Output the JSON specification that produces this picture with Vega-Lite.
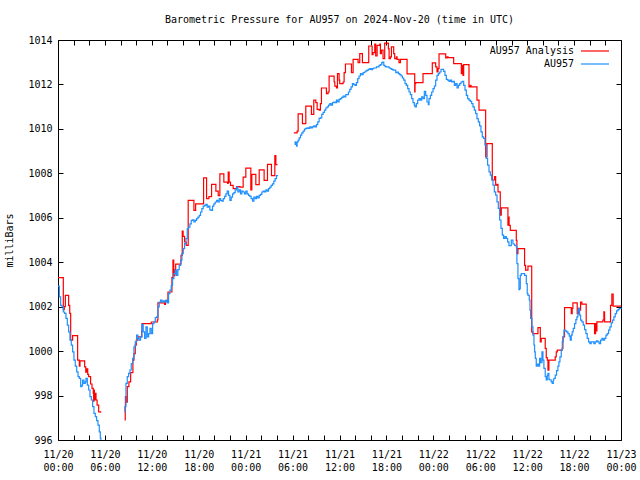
{
"$schema": "https://vega.github.io/schema/vega-lite/v6.json",
"width": 563, "height": 400,
"autosize": "none",
"padding": {"left": 58, "top": 40, "right": 19, "bottom": 40},
"background": "white",
"title": {"text": "Barometric Pressure for AU957 on 2024-Nov-20 (time in UTC)", "font": "DejaVu Sans Mono", "fontSize": 10, "fontWeight": "normal", "color": "black", "offset": 10, "anchor": "middle"},
"config": {
 "view": {"stroke": "black", "strokeWidth": 1},
 "axis": {"domain": false, "grid": false, "tickColor": "black", "tickSize": -5, "tickWidth": 1, "labelFont": "DejaVu Sans Mono", "labelFontSize": 10, "labelColor": "black", "titleFont": "DejaVu Sans Mono", "titleFontSize": 10, "titleFontWeight": "normal", "titleColor": "black", "labelOverlap": false, "labelFlush": false, "labelBound": false},
 "legend": {"orient": "none", "legendX": 529, "legendY": 3, "symbolType": "M-2,0H2", "symbolSize": 196, "symbolStrokeWidth": 1.2, "labelAlign": "right", "labelOffset": -29, "labelFont": "DejaVu Sans Mono", "labelFontSize": 10, "labelColor": "black", "rowPadding": 0, "padding": 0}
},
"datasets": {"pressure": [
{"series":"AU957 Analysis","seg":1,"hour":0,"mb":1003.31},
{"series":"AU957 Analysis","seg":1,"hour":0.68,"mb":1001.87},
{"series":"AU957 Analysis","seg":1,"hour":0.8,"mb":1002.0},
{"series":"AU957 Analysis","seg":1,"hour":0.94,"mb":1002.51},
{"series":"AU957 Analysis","seg":1,"hour":1.36,"mb":1002.06},
{"series":"AU957 Analysis","seg":1,"hour":1.5,"mb":1001.7},
{"series":"AU957 Analysis","seg":1,"hour":1.62,"mb":1000.49},
{"series":"AU957 Analysis","seg":1,"hour":1.87,"mb":1000.7},
{"series":"AU957 Analysis","seg":1,"hour":2.51,"mb":999.59},
{"series":"AU957 Analysis","seg":1,"hour":2.73,"mb":999.32},
{"series":"AU957 Analysis","seg":1,"hour":2.81,"mb":999.56},
{"series":"AU957 Analysis","seg":1,"hour":3.41,"mb":999.29},
{"series":"AU957 Analysis","seg":1,"hour":3.55,"mb":999.05},
{"series":"AU957 Analysis","seg":1,"hour":3.66,"mb":999.2},
{"series":"AU957 Analysis","seg":1,"hour":3.8,"mb":998.95},
{"series":"AU957 Analysis","seg":1,"hour":3.92,"mb":998.85},
{"series":"AU957 Analysis","seg":1,"hour":4.17,"mb":998.52},
{"series":"AU957 Analysis","seg":1,"hour":4.35,"mb":998.32},
{"series":"AU957 Analysis","seg":1,"hour":4.51,"mb":998.1},
{"series":"AU957 Analysis","seg":1,"hour":4.56,"mb":997.75},
{"series":"AU957 Analysis","seg":1,"hour":4.6,"mb":998.25},
{"series":"AU957 Analysis","seg":1,"hour":4.66,"mb":997.8},
{"series":"AU957 Analysis","seg":1,"hour":4.72,"mb":998.1},
{"series":"AU957 Analysis","seg":1,"hour":4.86,"mb":997.8},
{"series":"AU957 Analysis","seg":1,"hour":5.0,"mb":997.57},
{"series":"AU957 Analysis","seg":1,"hour":5.2,"mb":997.27},
{"series":"AU957 Analysis","seg":1,"hour":5.45,"mb":997.23},
{"series":"AU957 Analysis","seg":2,"hour":8.52,"mb":996.9},
{"series":"AU957 Analysis","seg":2,"hour":8.6,"mb":997.5},
{"series":"AU957 Analysis","seg":2,"hour":8.62,"mb":997.95},
{"series":"AU957 Analysis","seg":2,"hour":8.7,"mb":997.7},
{"series":"AU957 Analysis","seg":2,"hour":8.86,"mb":998.4},
{"series":"AU957 Analysis","seg":2,"hour":9.07,"mb":998.62},
{"series":"AU957 Analysis","seg":2,"hour":9.29,"mb":999.03},
{"series":"AU957 Analysis","seg":2,"hour":9.58,"mb":999.59},
{"series":"AU957 Analysis","seg":2,"hour":9.71,"mb":999.89},
{"series":"AU957 Analysis","seg":2,"hour":9.88,"mb":1000.27},
{"series":"AU957 Analysis","seg":2,"hour":10.01,"mb":1000.49},
{"series":"AU957 Analysis","seg":2,"hour":10.22,"mb":1000.64},
{"series":"AU957 Analysis","seg":2,"hour":10.7,"mb":1000.9},
{"series":"AU957 Analysis","seg":2,"hour":10.75,"mb":1001.24},
{"series":"AU957 Analysis","seg":2,"hour":11.93,"mb":1001.31},
{"series":"AU957 Analysis","seg":2,"hour":12.7,"mb":1001.4},
{"series":"AU957 Analysis","seg":2,"hour":12.78,"mb":1002.17},
{"series":"AU957 Analysis","seg":2,"hour":13.63,"mb":1002.1},
{"series":"AU957 Analysis","seg":2,"hour":13.75,"mb":1002.25},
{"series":"AU957 Analysis","seg":2,"hour":14.06,"mb":1002.66},
{"series":"AU957 Analysis","seg":2,"hour":14.57,"mb":1003.31},
{"series":"AU957 Analysis","seg":2,"hour":14.7,"mb":1004.09},
{"series":"AU957 Analysis","seg":2,"hour":14.8,"mb":1003.4},
{"series":"AU957 Analysis","seg":2,"hour":14.96,"mb":1003.67},
{"series":"AU957 Analysis","seg":2,"hour":15.05,"mb":1003.91},
{"series":"AU957 Analysis","seg":2,"hour":15.73,"mb":1004.31},
{"series":"AU957 Analysis","seg":2,"hour":15.89,"mb":1005.4},
{"series":"AU957 Analysis","seg":2,"hour":16.0,"mb":1005.16},
{"series":"AU957 Analysis","seg":2,"hour":16.19,"mb":1004.91},
{"series":"AU957 Analysis","seg":2,"hour":16.4,"mb":1004.76},
{"series":"AU957 Analysis","seg":2,"hour":16.65,"mb":1006.78},
{"series":"AU957 Analysis","seg":2,"hour":17.38,"mb":1006.33},
{"series":"AU957 Analysis","seg":2,"hour":17.6,"mb":1006.63},
{"series":"AU957 Analysis","seg":2,"hour":18.62,"mb":1007.8},
{"series":"AU957 Analysis","seg":2,"hour":19.0,"mb":1006.86},
{"series":"AU957 Analysis","seg":2,"hour":19.3,"mb":1006.95},
{"series":"AU957 Analysis","seg":2,"hour":19.64,"mb":1007.5},
{"series":"AU957 Analysis","seg":2,"hour":20.19,"mb":1007.2},
{"series":"AU957 Analysis","seg":2,"hour":20.49,"mb":1007.0},
{"series":"AU957 Analysis","seg":2,"hour":20.7,"mb":1007.98},
{"series":"AU957 Analysis","seg":2,"hour":21.21,"mb":1007.6},
{"series":"AU957 Analysis","seg":2,"hour":21.7,"mb":1007.55},
{"series":"AU957 Analysis","seg":2,"hour":21.77,"mb":1008.05},
{"series":"AU957 Analysis","seg":2,"hour":21.89,"mb":1007.6},
{"series":"AU957 Analysis","seg":2,"hour":22.06,"mb":1007.46},
{"series":"AU957 Analysis","seg":2,"hour":22.4,"mb":1007.31},
{"series":"AU957 Analysis","seg":2,"hour":22.83,"mb":1007.4},
{"series":"AU957 Analysis","seg":2,"hour":23.26,"mb":1007.38},
{"series":"AU957 Analysis","seg":2,"hour":23.68,"mb":1007.83},
{"series":"AU957 Analysis","seg":2,"hour":24.02,"mb":1008.23},
{"series":"AU957 Analysis","seg":2,"hour":24.66,"mb":1007.26},
{"series":"AU957 Analysis","seg":2,"hour":24.79,"mb":1007.95},
{"series":"AU957 Analysis","seg":2,"hour":25.3,"mb":1007.49},
{"series":"AU957 Analysis","seg":2,"hour":25.73,"mb":1008.16},
{"series":"AU957 Analysis","seg":2,"hour":26.36,"mb":1007.68},
{"series":"AU957 Analysis","seg":2,"hour":26.79,"mb":1008.4},
{"series":"AU957 Analysis","seg":2,"hour":27.3,"mb":1007.9},
{"series":"AU957 Analysis","seg":2,"hour":27.73,"mb":1008.8},
{"series":"AU957 Analysis","seg":2,"hour":27.86,"mb":1008.39},
{"series":"AU957 Analysis","seg":2,"hour":28.07,"mb":1008.39},
{"series":"AU957 Analysis","seg":3,"hour":30.16,"mb":1009.82},
{"series":"AU957 Analysis","seg":3,"hour":30.58,"mb":1009.9},
{"series":"AU957 Analysis","seg":3,"hour":30.71,"mb":1010.68},
{"series":"AU957 Analysis","seg":3,"hour":31.26,"mb":1010.24},
{"series":"AU957 Analysis","seg":3,"hour":31.69,"mb":1011.02},
{"series":"AU957 Analysis","seg":3,"hour":32.41,"mb":1010.65},
{"series":"AU957 Analysis","seg":3,"hour":32.71,"mb":1011.29},
{"series":"AU957 Analysis","seg":3,"hour":32.97,"mb":1011.18},
{"series":"AU957 Analysis","seg":3,"hour":33.14,"mb":1010.88},
{"series":"AU957 Analysis","seg":3,"hour":33.39,"mb":1010.84},
{"series":"AU957 Analysis","seg":3,"hour":33.56,"mb":1011.14},
{"series":"AU957 Analysis","seg":3,"hour":33.69,"mb":1011.84},
{"series":"AU957 Analysis","seg":3,"hour":34.33,"mb":1011.59},
{"series":"AU957 Analysis","seg":3,"hour":34.54,"mb":1011.66},
{"series":"AU957 Analysis","seg":3,"hour":34.67,"mb":1012.37},
{"series":"AU957 Analysis","seg":3,"hour":35.31,"mb":1012.11},
{"series":"AU957 Analysis","seg":3,"hour":35.4,"mb":1011.92},
{"series":"AU957 Analysis","seg":3,"hour":35.61,"mb":1011.84},
{"series":"AU957 Analysis","seg":3,"hour":35.74,"mb":1012.49},
{"series":"AU957 Analysis","seg":3,"hour":35.95,"mb":1012.19},
{"series":"AU957 Analysis","seg":3,"hour":36.03,"mb":1012.04},
{"series":"AU957 Analysis","seg":3,"hour":36.46,"mb":1012.11},
{"series":"AU957 Analysis","seg":3,"hour":36.59,"mb":1012.53},
{"series":"AU957 Analysis","seg":3,"hour":36.76,"mb":1012.92},
{"series":"AU957 Analysis","seg":3,"hour":37.53,"mb":1012.53},
{"series":"AU957 Analysis","seg":3,"hour":37.74,"mb":1013.13},
{"series":"AU957 Analysis","seg":3,"hour":38.38,"mb":1012.98},
{"series":"AU957 Analysis","seg":3,"hour":38.59,"mb":1013.39},
{"series":"AU957 Analysis","seg":3,"hour":38.93,"mb":1012.98},
{"series":"AU957 Analysis","seg":3,"hour":39.74,"mb":1013.73},
{"series":"AU957 Analysis","seg":3,"hour":40.17,"mb":1013.34},
{"series":"AU957 Analysis","seg":3,"hour":40.29,"mb":1013.43},
{"series":"AU957 Analysis","seg":3,"hour":40.51,"mb":1013.82},
{"series":"AU957 Analysis","seg":3,"hour":40.63,"mb":1013.28},
{"series":"AU957 Analysis","seg":3,"hour":40.81,"mb":1013.76},
{"series":"AU957 Analysis","seg":3,"hour":41.15,"mb":1013.82},
{"series":"AU957 Analysis","seg":3,"hour":41.23,"mb":1013.39},
{"series":"AU957 Analysis","seg":3,"hour":41.36,"mb":1013.54},
{"series":"AU957 Analysis","seg":3,"hour":41.57,"mb":1013.16},
{"series":"AU957 Analysis","seg":3,"hour":41.78,"mb":1013.86},
{"series":"AU957 Analysis","seg":3,"hour":42.25,"mb":1013.61},
{"series":"AU957 Analysis","seg":3,"hour":42.34,"mb":1013.16},
{"series":"AU957 Analysis","seg":3,"hour":42.51,"mb":1013.24},
{"series":"AU957 Analysis","seg":3,"hour":42.64,"mb":1013.69},
{"series":"AU957 Analysis","seg":3,"hour":42.93,"mb":1013.39},
{"series":"AU957 Analysis","seg":3,"hour":43.06,"mb":1013.16},
{"series":"AU957 Analysis","seg":3,"hour":43.28,"mb":1013.24},
{"series":"AU957 Analysis","seg":3,"hour":43.36,"mb":1013.13},
{"series":"AU957 Analysis","seg":3,"hour":43.61,"mb":1012.98},
{"series":"AU957 Analysis","seg":3,"hour":43.79,"mb":1013.13},
{"series":"AU957 Analysis","seg":3,"hour":44.64,"mb":1012.48},
{"series":"AU957 Analysis","seg":3,"hour":45.62,"mb":1011.66},
{"series":"AU957 Analysis","seg":3,"hour":45.66,"mb":1012.04},
{"series":"AU957 Analysis","seg":3,"hour":45.74,"mb":1012.08},
{"series":"AU957 Analysis","seg":3,"hour":46.68,"mb":1012.49},
{"series":"AU957 Analysis","seg":3,"hour":47.87,"mb":1012.97},
{"series":"AU957 Analysis","seg":3,"hour":48.3,"mb":1012.79},
{"series":"AU957 Analysis","seg":3,"hour":48.47,"mb":1012.56},
{"series":"AU957 Analysis","seg":3,"hour":48.6,"mb":1012.71},
{"series":"AU957 Analysis","seg":3,"hour":48.73,"mb":1013.38},
{"series":"AU957 Analysis","seg":3,"hour":49.58,"mb":1013.19},
{"series":"AU957 Analysis","seg":3,"hour":49.75,"mb":1013.24},
{"series":"AU957 Analysis","seg":3,"hour":49.88,"mb":1013.21},
{"series":"AU957 Analysis","seg":3,"hour":50.6,"mb":1012.94},
{"series":"AU957 Analysis","seg":3,"hour":51.58,"mb":1012.49},
{"series":"AU957 Analysis","seg":3,"hour":51.71,"mb":1012.86},
{"series":"AU957 Analysis","seg":3,"hour":51.79,"mb":1012.41},
{"series":"AU957 Analysis","seg":3,"hour":51.88,"mb":1012.89},
{"series":"AU957 Analysis","seg":3,"hour":52.56,"mb":1011.89},
{"series":"AU957 Analysis","seg":3,"hour":52.73,"mb":1011.96},
{"series":"AU957 Analysis","seg":3,"hour":52.82,"mb":1011.89},
{"series":"AU957 Analysis","seg":3,"hour":53.58,"mb":1011.29},
{"series":"AU957 Analysis","seg":3,"hour":53.84,"mb":1010.84},
{"series":"AU957 Analysis","seg":3,"hour":54.69,"mb":1008.74},
{"series":"AU957 Analysis","seg":3,"hour":54.86,"mb":1009.34},
{"series":"AU957 Analysis","seg":3,"hour":55.54,"mb":1007.7},
{"series":"AU957 Analysis","seg":3,"hour":55.84,"mb":1007.85},
{"series":"AU957 Analysis","seg":3,"hour":55.97,"mb":1007.47},
{"series":"AU957 Analysis","seg":3,"hour":56.14,"mb":1007.5},
{"series":"AU957 Analysis","seg":3,"hour":56.27,"mb":1007.17},
{"series":"AU957 Analysis","seg":3,"hour":56.56,"mb":1006.12},
{"series":"AU957 Analysis","seg":3,"hour":56.69,"mb":1006.45},
{"series":"AU957 Analysis","seg":3,"hour":57.54,"mb":1005.67},
{"series":"AU957 Analysis","seg":3,"hour":57.63,"mb":1006.03},
{"series":"AU957 Analysis","seg":3,"hour":57.69,"mb":1005.66},
{"series":"AU957 Analysis","seg":3,"hour":57.84,"mb":1005.43},
{"series":"AU957 Analysis","seg":3,"hour":58.61,"mb":1004.98},
{"series":"AU957 Analysis","seg":3,"hour":58.69,"mb":1004.39},
{"series":"AU957 Analysis","seg":3,"hour":58.82,"mb":1004.61},
{"series":"AU957 Analysis","seg":3,"hour":59.67,"mb":1003.86},
{"series":"AU957 Analysis","seg":3,"hour":59.8,"mb":1003.64},
{"series":"AU957 Analysis","seg":3,"hour":60.1,"mb":1003.82},
{"series":"AU957 Analysis","seg":3,"hour":60.58,"mb":1000.87},
{"series":"AU957 Analysis","seg":3,"hour":60.74,"mb":1000.79},
{"series":"AU957 Analysis","seg":3,"hour":61.38,"mb":1001.06},
{"series":"AU957 Analysis","seg":3,"hour":61.68,"mb":1000.42},
{"series":"AU957 Analysis","seg":3,"hour":61.8,"mb":1000.57},
{"series":"AU957 Analysis","seg":3,"hour":62.31,"mb":1000.12},
{"series":"AU957 Analysis","seg":3,"hour":62.44,"mb":999.71},
{"series":"AU957 Analysis","seg":3,"hour":62.57,"mb":999.59},
{"series":"AU957 Analysis","seg":3,"hour":62.66,"mb":999.14},
{"series":"AU957 Analysis","seg":3,"hour":62.78,"mb":999.59},
{"series":"AU957 Analysis","seg":3,"hour":63.59,"mb":999.74},
{"series":"AU957 Analysis","seg":3,"hour":63.72,"mb":999.97},
{"series":"AU957 Analysis","seg":3,"hour":63.85,"mb":1000.04},
{"series":"AU957 Analysis","seg":3,"hour":64.49,"mb":1000.12},
{"series":"AU957 Analysis","seg":3,"hour":64.57,"mb":1000.64},
{"series":"AU957 Analysis","seg":3,"hour":64.78,"mb":1001.96},
{"series":"AU957 Analysis","seg":3,"hour":65.64,"mb":1001.69},
{"series":"AU957 Analysis","seg":3,"hour":65.76,"mb":1001.92},
{"series":"AU957 Analysis","seg":3,"hour":65.85,"mb":1002.17},
{"series":"AU957 Analysis","seg":3,"hour":66.4,"mb":1001.69},
{"series":"AU957 Analysis","seg":3,"hour":66.57,"mb":1001.92},
{"series":"AU957 Analysis","seg":3,"hour":66.7,"mb":1001.84},
{"series":"AU957 Analysis","seg":3,"hour":66.83,"mb":1002.21},
{"series":"AU957 Analysis","seg":3,"hour":67.0,"mb":1002.11},
{"series":"AU957 Analysis","seg":3,"hour":67.55,"mb":1001.24},
{"series":"AU957 Analysis","seg":3,"hour":68.62,"mb":1000.79},
{"series":"AU957 Analysis","seg":3,"hour":68.75,"mb":1001.24},
{"series":"AU957 Analysis","seg":3,"hour":68.83,"mb":1000.91},
{"series":"AU957 Analysis","seg":3,"hour":68.92,"mb":1001.32},
{"series":"AU957 Analysis","seg":3,"hour":69.68,"mb":1001.39},
{"series":"AU957 Analysis","seg":3,"hour":69.81,"mb":1001.77},
{"series":"AU957 Analysis","seg":3,"hour":69.9,"mb":1001.32},
{"series":"AU957 Analysis","seg":3,"hour":70.66,"mb":1002.06},
{"series":"AU957 Analysis","seg":3,"hour":70.83,"mb":1002.56},
{"series":"AU957 Analysis","seg":3,"hour":71.0,"mb":1002.02},
{"series":"AU957 Analysis","seg":3,"hour":72.0,"mb":1002.02},
{"series":"AU957","seg":1,"hour":0,"mb":1002.92},
{"series":"AU957","seg":1,"hour":0.09,"mb":1002.92},
{"series":"AU957","seg":1,"hour":0.17,"mb":1002.44},
{"series":"AU957","seg":1,"hour":0.34,"mb":1002.06},
{"series":"AU957","seg":1,"hour":0.51,"mb":1001.99},
{"series":"AU957","seg":1,"hour":0.68,"mb":1001.76},
{"series":"AU957","seg":1,"hour":0.85,"mb":1001.7},
{"series":"AU957","seg":1,"hour":1.02,"mb":1001.47},
{"series":"AU957","seg":1,"hour":1.19,"mb":1001.17},
{"series":"AU957","seg":1,"hour":1.36,"mb":1000.87},
{"series":"AU957","seg":1,"hour":1.53,"mb":1000.49},
{"series":"AU957","seg":1,"hour":1.7,"mb":1000.27},
{"series":"AU957","seg":1,"hour":1.87,"mb":999.97},
{"series":"AU957","seg":1,"hour":2.04,"mb":999.59},
{"series":"AU957","seg":1,"hour":2.21,"mb":999.32},
{"series":"AU957","seg":1,"hour":2.39,"mb":999.07},
{"series":"AU957","seg":1,"hour":2.56,"mb":998.85},
{"series":"AU957","seg":1,"hour":2.73,"mb":998.77},
{"series":"AU957","seg":1,"hour":2.9,"mb":998.4},
{"series":"AU957","seg":1,"hour":3.07,"mb":998.47},
{"series":"AU957","seg":1,"hour":3.15,"mb":998.7},
{"series":"AU957","seg":1,"hour":3.32,"mb":998.55},
{"series":"AU957","seg":1,"hour":3.49,"mb":998.62},
{"series":"AU957","seg":1,"hour":3.58,"mb":998.77},
{"series":"AU957","seg":1,"hour":3.75,"mb":998.47},
{"series":"AU957","seg":1,"hour":3.92,"mb":998.25},
{"series":"AU957","seg":1,"hour":4.09,"mb":997.95},
{"series":"AU957","seg":1,"hour":4.26,"mb":997.8},
{"series":"AU957","seg":1,"hour":4.43,"mb":997.5},
{"series":"AU957","seg":1,"hour":4.6,"mb":997.2},
{"series":"AU957","seg":1,"hour":4.77,"mb":997.05},
{"series":"AU957","seg":1,"hour":4.94,"mb":996.87},
{"series":"AU957","seg":1,"hour":5.11,"mb":996.67},
{"series":"AU957","seg":1,"hour":5.28,"mb":996.37},
{"series":"AU957","seg":1,"hour":5.41,"mb":996.08},
{"series":"AU957","seg":1,"hour":5.48,"mb":996.0},
{"series":"AU957","seg":2,"hour":8.48,"mb":997.27},
{"series":"AU957","seg":2,"hour":8.56,"mb":997.5},
{"series":"AU957","seg":2,"hour":8.69,"mb":998.55},
{"series":"AU957","seg":2,"hour":8.86,"mb":998.85},
{"series":"AU957","seg":2,"hour":9.03,"mb":999.0},
{"series":"AU957","seg":2,"hour":9.2,"mb":999.15},
{"series":"AU957","seg":2,"hour":9.37,"mb":999.44},
{"series":"AU957","seg":2,"hour":9.54,"mb":999.67},
{"series":"AU957","seg":2,"hour":9.71,"mb":1000.19},
{"series":"AU957","seg":2,"hour":9.88,"mb":1000.42},
{"series":"AU957","seg":2,"hour":10.05,"mb":1000.72},
{"series":"AU957","seg":2,"hour":10.22,"mb":1000.57},
{"series":"AU957","seg":2,"hour":10.39,"mb":1000.49},
{"series":"AU957","seg":2,"hour":10.56,"mb":1000.64},
{"series":"AU957","seg":2,"hour":10.73,"mb":1001.2},
{"series":"AU957","seg":2,"hour":10.9,"mb":1000.87},
{"series":"AU957","seg":2,"hour":11.08,"mb":1000.57},
{"series":"AU957","seg":2,"hour":11.25,"mb":1001.09},
{"series":"AU957","seg":2,"hour":11.42,"mb":1000.64},
{"series":"AU957","seg":2,"hour":11.59,"mb":1000.79},
{"series":"AU957","seg":2,"hour":11.76,"mb":1001.02},
{"series":"AU957","seg":2,"hour":11.93,"mb":1000.79},
{"series":"AU957","seg":2,"hour":12.1,"mb":1001.24},
{"series":"AU957","seg":2,"hour":12.27,"mb":1001.32},
{"series":"AU957","seg":2,"hour":12.44,"mb":1001.51},
{"series":"AU957","seg":2,"hour":12.61,"mb":1001.54},
{"series":"AU957","seg":2,"hour":12.78,"mb":1001.99},
{"series":"AU957","seg":2,"hour":12.95,"mb":1002.21},
{"series":"AU957","seg":2,"hour":13.12,"mb":1002.29},
{"series":"AU957","seg":2,"hour":13.29,"mb":1002.21},
{"series":"AU957","seg":2,"hour":13.46,"mb":1002.26},
{"series":"AU957","seg":2,"hour":13.63,"mb":1002.21},
{"series":"AU957","seg":2,"hour":13.8,"mb":1002.29},
{"series":"AU957","seg":2,"hour":13.97,"mb":1002.17},
{"series":"AU957","seg":2,"hour":14.14,"mb":1002.59},
{"series":"AU957","seg":2,"hour":14.31,"mb":1002.74},
{"series":"AU957","seg":2,"hour":14.48,"mb":1002.96},
{"series":"AU957","seg":2,"hour":14.65,"mb":1003.26},
{"series":"AU957","seg":2,"hour":14.82,"mb":1003.49},
{"series":"AU957","seg":2,"hour":14.99,"mb":1003.64},
{"series":"AU957","seg":2,"hour":15.16,"mb":1003.41},
{"series":"AU957","seg":2,"hour":15.33,"mb":1003.67},
{"series":"AU957","seg":2,"hour":15.5,"mb":1003.86},
{"series":"AU957","seg":2,"hour":15.68,"mb":1004.09},
{"series":"AU957","seg":2,"hour":15.85,"mb":1004.39},
{"series":"AU957","seg":2,"hour":16.02,"mb":1004.61},
{"series":"AU957","seg":2,"hour":16.19,"mb":1004.84},
{"series":"AU957","seg":2,"hour":16.36,"mb":1005.06},
{"series":"AU957","seg":2,"hour":16.53,"mb":1005.51},
{"series":"AU957","seg":2,"hour":16.7,"mb":1005.58},
{"series":"AU957","seg":2,"hour":16.87,"mb":1005.73},
{"series":"AU957","seg":2,"hour":17.04,"mb":1005.88},
{"series":"AU957","seg":2,"hour":17.21,"mb":1005.91},
{"series":"AU957","seg":2,"hour":17.38,"mb":1005.81},
{"series":"AU957","seg":2,"hour":17.55,"mb":1005.88},
{"series":"AU957","seg":2,"hour":17.72,"mb":1005.96},
{"series":"AU957","seg":2,"hour":17.89,"mb":1006.03},
{"series":"AU957","seg":2,"hour":18.06,"mb":1006.11},
{"series":"AU957","seg":2,"hour":18.23,"mb":1006.26},
{"series":"AU957","seg":2,"hour":18.4,"mb":1006.41},
{"series":"AU957","seg":2,"hour":18.57,"mb":1006.52},
{"series":"AU957","seg":2,"hour":18.74,"mb":1006.56},
{"series":"AU957","seg":2,"hour":18.91,"mb":1006.6},
{"series":"AU957","seg":2,"hour":19.08,"mb":1006.48},
{"series":"AU957","seg":2,"hour":19.25,"mb":1006.52},
{"series":"AU957","seg":2,"hour":19.42,"mb":1006.36},
{"series":"AU957","seg":2,"hour":19.59,"mb":1006.33},
{"series":"AU957","seg":2,"hour":19.76,"mb":1006.52},
{"series":"AU957","seg":2,"hour":19.93,"mb":1006.63},
{"series":"AU957","seg":2,"hour":20.1,"mb":1006.71},
{"series":"AU957","seg":2,"hour":20.28,"mb":1006.78},
{"series":"AU957","seg":2,"hour":20.45,"mb":1006.71},
{"series":"AU957","seg":2,"hour":20.62,"mb":1006.86},
{"series":"AU957","seg":2,"hour":20.79,"mb":1006.78},
{"series":"AU957","seg":2,"hour":20.96,"mb":1006.75},
{"series":"AU957","seg":2,"hour":21.13,"mb":1006.86},
{"series":"AU957","seg":2,"hour":21.3,"mb":1006.96},
{"series":"AU957","seg":2,"hour":21.47,"mb":1007.08},
{"series":"AU957","seg":2,"hour":21.64,"mb":1007.2},
{"series":"AU957","seg":2,"hour":21.81,"mb":1007.01},
{"series":"AU957","seg":2,"hour":21.98,"mb":1006.78},
{"series":"AU957","seg":2,"hour":22.15,"mb":1006.93},
{"series":"AU957","seg":2,"hour":22.32,"mb":1007.08},
{"series":"AU957","seg":2,"hour":22.49,"mb":1007.13},
{"series":"AU957","seg":2,"hour":22.66,"mb":1007.26},
{"series":"AU957","seg":2,"hour":22.83,"mb":1007.38},
{"series":"AU957","seg":2,"hour":23.0,"mb":1007.16},
{"series":"AU957","seg":2,"hour":23.17,"mb":1007.26},
{"series":"AU957","seg":2,"hour":23.34,"mb":1007.08},
{"series":"AU957","seg":2,"hour":23.51,"mb":1007.2},
{"series":"AU957","seg":2,"hour":23.68,"mb":1007.16},
{"series":"AU957","seg":2,"hour":23.85,"mb":1007.08},
{"series":"AU957","seg":2,"hour":24.02,"mb":1007.2},
{"series":"AU957","seg":2,"hour":24.19,"mb":1007.08},
{"series":"AU957","seg":2,"hour":24.36,"mb":1007.01},
{"series":"AU957","seg":2,"hour":24.53,"mb":1006.96},
{"series":"AU957","seg":2,"hour":24.7,"mb":1006.86},
{"series":"AU957","seg":2,"hour":24.88,"mb":1006.75},
{"series":"AU957","seg":2,"hour":25.05,"mb":1006.93},
{"series":"AU957","seg":2,"hour":25.22,"mb":1006.86},
{"series":"AU957","seg":2,"hour":25.39,"mb":1006.96},
{"series":"AU957","seg":2,"hour":25.56,"mb":1006.9},
{"series":"AU957","seg":2,"hour":25.73,"mb":1007.01},
{"series":"AU957","seg":2,"hour":25.9,"mb":1007.05},
{"series":"AU957","seg":2,"hour":26.07,"mb":1007.16},
{"series":"AU957","seg":2,"hour":26.24,"mb":1007.2},
{"series":"AU957","seg":2,"hour":26.41,"mb":1007.16},
{"series":"AU957","seg":2,"hour":26.58,"mb":1007.26},
{"series":"AU957","seg":2,"hour":26.75,"mb":1007.2},
{"series":"AU957","seg":2,"hour":26.92,"mb":1007.31},
{"series":"AU957","seg":2,"hour":27.09,"mb":1007.38},
{"series":"AU957","seg":2,"hour":27.26,"mb":1007.46},
{"series":"AU957","seg":2,"hour":27.43,"mb":1007.53},
{"series":"AU957","seg":2,"hour":27.6,"mb":1007.65},
{"series":"AU957","seg":2,"hour":27.77,"mb":1007.76},
{"series":"AU957","seg":2,"hour":27.94,"mb":1007.9},
{"series":"AU957","seg":2,"hour":28.07,"mb":1007.93},
{"series":"AU957","seg":3,"hour":30.24,"mb":1009.42},
{"series":"AU957","seg":3,"hour":30.33,"mb":1009.3},
{"series":"AU957","seg":3,"hour":30.41,"mb":1009.39},
{"series":"AU957","seg":3,"hour":30.5,"mb":1009.22},
{"series":"AU957","seg":3,"hour":30.58,"mb":1009.42},
{"series":"AU957","seg":3,"hour":30.71,"mb":1009.49},
{"series":"AU957","seg":3,"hour":30.84,"mb":1009.6},
{"series":"AU957","seg":3,"hour":31.01,"mb":1009.72},
{"series":"AU957","seg":3,"hour":31.18,"mb":1009.82},
{"series":"AU957","seg":3,"hour":31.35,"mb":1009.9},
{"series":"AU957","seg":3,"hour":31.52,"mb":1009.99},
{"series":"AU957","seg":3,"hour":31.69,"mb":1010.02},
{"series":"AU957","seg":3,"hour":31.86,"mb":1010.05},
{"series":"AU957","seg":3,"hour":32.03,"mb":1010.02},
{"series":"AU957","seg":3,"hour":32.2,"mb":1010.09},
{"series":"AU957","seg":3,"hour":32.37,"mb":1010.05},
{"series":"AU957","seg":3,"hour":32.54,"mb":1010.09},
{"series":"AU957","seg":3,"hour":32.71,"mb":1010.14},
{"series":"AU957","seg":3,"hour":32.88,"mb":1010.09},
{"series":"AU957","seg":3,"hour":33.05,"mb":1010.19},
{"series":"AU957","seg":3,"hour":33.22,"mb":1010.32},
{"series":"AU957","seg":3,"hour":33.39,"mb":1010.47},
{"series":"AU957","seg":3,"hour":33.56,"mb":1010.5},
{"series":"AU957","seg":3,"hour":33.73,"mb":1010.65},
{"series":"AU957","seg":3,"hour":33.9,"mb":1010.74},
{"series":"AU957","seg":3,"hour":34.08,"mb":1010.84},
{"series":"AU957","seg":3,"hour":34.25,"mb":1010.94},
{"series":"AU957","seg":3,"hour":34.42,"mb":1010.99},
{"series":"AU957","seg":3,"hour":34.59,"mb":1011.07},
{"series":"AU957","seg":3,"hour":34.76,"mb":1011.14},
{"series":"AU957","seg":3,"hour":34.93,"mb":1011.07},
{"series":"AU957","seg":3,"hour":35.1,"mb":1011.18},
{"series":"AU957","seg":3,"hour":35.27,"mb":1011.21},
{"series":"AU957","seg":3,"hour":35.44,"mb":1011.18},
{"series":"AU957","seg":3,"hour":35.61,"mb":1011.29},
{"series":"AU957","seg":3,"hour":35.78,"mb":1011.21},
{"series":"AU957","seg":3,"hour":35.95,"mb":1011.33},
{"series":"AU957","seg":3,"hour":36.12,"mb":1011.36},
{"series":"AU957","seg":3,"hour":36.29,"mb":1011.42},
{"series":"AU957","seg":3,"hour":36.46,"mb":1011.48},
{"series":"AU957","seg":3,"hour":36.63,"mb":1011.44},
{"series":"AU957","seg":3,"hour":36.8,"mb":1011.54},
{"series":"AU957","seg":3,"hour":36.97,"mb":1011.54},
{"series":"AU957","seg":3,"hour":37.14,"mb":1011.66},
{"series":"AU957","seg":3,"hour":37.31,"mb":1011.78},
{"series":"AU957","seg":3,"hour":37.48,"mb":1011.89},
{"series":"AU957","seg":3,"hour":37.65,"mb":1012.04},
{"series":"AU957","seg":3,"hour":37.82,"mb":1011.99},
{"series":"AU957","seg":3,"hour":37.99,"mb":1011.96},
{"series":"AU957","seg":3,"hour":38.16,"mb":1012.08},
{"series":"AU957","seg":3,"hour":38.33,"mb":1012.26},
{"series":"AU957","seg":3,"hour":38.5,"mb":1012.38},
{"series":"AU957","seg":3,"hour":38.68,"mb":1012.49},
{"series":"AU957","seg":3,"hour":38.85,"mb":1012.44},
{"series":"AU957","seg":3,"hour":39.02,"mb":1012.53},
{"series":"AU957","seg":3,"hour":39.19,"mb":1012.56},
{"series":"AU957","seg":3,"hour":39.36,"mb":1012.61},
{"series":"AU957","seg":3,"hour":39.53,"mb":1012.64},
{"series":"AU957","seg":3,"hour":39.7,"mb":1012.68},
{"series":"AU957","seg":3,"hour":39.87,"mb":1012.71},
{"series":"AU957","seg":3,"hour":40.04,"mb":1012.67},
{"series":"AU957","seg":3,"hour":40.21,"mb":1012.71},
{"series":"AU957","seg":3,"hour":40.38,"mb":1012.74},
{"series":"AU957","seg":3,"hour":40.55,"mb":1012.74},
{"series":"AU957","seg":3,"hour":40.72,"mb":1012.79},
{"series":"AU957","seg":3,"hour":40.89,"mb":1012.79},
{"series":"AU957","seg":3,"hour":41.06,"mb":1012.86},
{"series":"AU957","seg":3,"hour":41.23,"mb":1012.89},
{"series":"AU957","seg":3,"hour":41.4,"mb":1012.98},
{"series":"AU957","seg":3,"hour":41.49,"mb":1013.01},
{"series":"AU957","seg":3,"hour":41.66,"mb":1012.86},
{"series":"AU957","seg":3,"hour":41.83,"mb":1012.8},
{"series":"AU957","seg":3,"hour":42.0,"mb":1012.79},
{"series":"AU957","seg":3,"hour":42.17,"mb":1012.79},
{"series":"AU957","seg":3,"hour":42.34,"mb":1012.74},
{"series":"AU957","seg":3,"hour":42.51,"mb":1012.71},
{"series":"AU957","seg":3,"hour":42.68,"mb":1012.68},
{"series":"AU957","seg":3,"hour":42.85,"mb":1012.64},
{"series":"AU957","seg":3,"hour":43.02,"mb":1012.64},
{"series":"AU957","seg":3,"hour":43.19,"mb":1012.53},
{"series":"AU957","seg":3,"hour":43.36,"mb":1012.56},
{"series":"AU957","seg":3,"hour":43.53,"mb":1012.49},
{"series":"AU957","seg":3,"hour":43.7,"mb":1012.44},
{"series":"AU957","seg":3,"hour":43.87,"mb":1012.38},
{"series":"AU957","seg":3,"hour":44.04,"mb":1012.29},
{"series":"AU957","seg":3,"hour":44.21,"mb":1012.19},
{"series":"AU957","seg":3,"hour":44.38,"mb":1012.04},
{"series":"AU957","seg":3,"hour":44.55,"mb":1011.96},
{"series":"AU957","seg":3,"hour":44.72,"mb":1011.81},
{"series":"AU957","seg":3,"hour":44.89,"mb":1011.66},
{"series":"AU957","seg":3,"hour":45.06,"mb":1011.54},
{"series":"AU957","seg":3,"hour":45.23,"mb":1011.36},
{"series":"AU957","seg":3,"hour":45.4,"mb":1011.18},
{"series":"AU957","seg":3,"hour":45.57,"mb":1011.06},
{"series":"AU957","seg":3,"hour":45.66,"mb":1010.99},
{"series":"AU957","seg":3,"hour":45.83,"mb":1011.14},
{"series":"AU957","seg":3,"hour":46.0,"mb":1011.29},
{"series":"AU957","seg":3,"hour":46.17,"mb":1011.36},
{"series":"AU957","seg":3,"hour":46.34,"mb":1011.29},
{"series":"AU957","seg":3,"hour":46.51,"mb":1011.44},
{"series":"AU957","seg":3,"hour":46.68,"mb":1011.36},
{"series":"AU957","seg":3,"hour":46.85,"mb":1011.69},
{"series":"AU957","seg":3,"hour":47.02,"mb":1011.51},
{"series":"AU957","seg":3,"hour":47.19,"mb":1011.21},
{"series":"AU957","seg":3,"hour":47.36,"mb":1011.09},
{"series":"AU957","seg":3,"hour":47.45,"mb":1011.36},
{"series":"AU957","seg":3,"hour":47.62,"mb":1011.51},
{"series":"AU957","seg":3,"hour":47.79,"mb":1011.66},
{"series":"AU957","seg":3,"hour":47.96,"mb":1011.81},
{"series":"AU957","seg":3,"hour":48.13,"mb":1011.93},
{"series":"AU957","seg":3,"hour":48.3,"mb":1012.19},
{"series":"AU957","seg":3,"hour":48.47,"mb":1012.41},
{"series":"AU957","seg":3,"hour":48.64,"mb":1012.49},
{"series":"AU957","seg":3,"hour":48.81,"mb":1012.56},
{"series":"AU957","seg":3,"hour":48.98,"mb":1012.68},
{"series":"AU957","seg":3,"hour":49.15,"mb":1012.68},
{"series":"AU957","seg":3,"hour":49.32,"mb":1012.59},
{"series":"AU957","seg":3,"hour":49.49,"mb":1012.41},
{"series":"AU957","seg":3,"hour":49.66,"mb":1012.23},
{"series":"AU957","seg":3,"hour":49.83,"mb":1012.19},
{"series":"AU957","seg":3,"hour":50.0,"mb":1012.14},
{"series":"AU957","seg":3,"hour":50.17,"mb":1012.19},
{"series":"AU957","seg":3,"hour":50.34,"mb":1012.11},
{"series":"AU957","seg":3,"hour":50.52,"mb":1012.14},
{"series":"AU957","seg":3,"hour":50.69,"mb":1011.96},
{"series":"AU957","seg":3,"hour":50.86,"mb":1012.04},
{"series":"AU957","seg":3,"hour":51.03,"mb":1011.84},
{"series":"AU957","seg":3,"hour":51.2,"mb":1011.96},
{"series":"AU957","seg":3,"hour":51.37,"mb":1012.04},
{"series":"AU957","seg":3,"hour":51.54,"mb":1012.11},
{"series":"AU957","seg":3,"hour":51.71,"mb":1012.14},
{"series":"AU957","seg":3,"hour":51.88,"mb":1011.96},
{"series":"AU957","seg":3,"hour":52.05,"mb":1011.74},
{"series":"AU957","seg":3,"hour":52.22,"mb":1011.51},
{"series":"AU957","seg":3,"hour":52.39,"mb":1011.36},
{"series":"AU957","seg":3,"hour":52.56,"mb":1011.29},
{"series":"AU957","seg":3,"hour":52.73,"mb":1011.24},
{"series":"AU957","seg":3,"hour":52.9,"mb":1011.14},
{"series":"AU957","seg":3,"hour":53.07,"mb":1010.99},
{"series":"AU957","seg":3,"hour":53.24,"mb":1010.84},
{"series":"AU957","seg":3,"hour":53.41,"mb":1010.69},
{"series":"AU957","seg":3,"hour":53.58,"mb":1010.46},
{"series":"AU957","seg":3,"hour":53.75,"mb":1010.32},
{"series":"AU957","seg":3,"hour":53.92,"mb":1010.14},
{"series":"AU957","seg":3,"hour":54.09,"mb":1009.87},
{"series":"AU957","seg":3,"hour":54.26,"mb":1009.64},
{"series":"AU957","seg":3,"hour":54.43,"mb":1009.57},
{"series":"AU957","seg":3,"hour":54.6,"mb":1009.27},
{"series":"AU957","seg":3,"hour":54.77,"mb":1008.67},
{"series":"AU957","seg":3,"hour":54.94,"mb":1008.37},
{"series":"AU957","seg":3,"hour":55.12,"mb":1008.07},
{"series":"AU957","seg":3,"hour":55.29,"mb":1007.92},
{"series":"AU957","seg":3,"hour":55.46,"mb":1007.7},
{"series":"AU957","seg":3,"hour":55.63,"mb":1007.47},
{"series":"AU957","seg":3,"hour":55.8,"mb":1007.17},
{"series":"AU957","seg":3,"hour":55.97,"mb":1007.02},
{"series":"AU957","seg":3,"hour":56.14,"mb":1006.72},
{"series":"AU957","seg":3,"hour":56.31,"mb":1006.42},
{"series":"AU957","seg":3,"hour":56.48,"mb":1005.9},
{"series":"AU957","seg":3,"hour":56.65,"mb":1005.52},
{"series":"AU957","seg":3,"hour":56.82,"mb":1005.22},
{"series":"AU957","seg":3,"hour":56.99,"mb":1005.07},
{"series":"AU957","seg":3,"hour":57.16,"mb":1005.15},
{"series":"AU957","seg":3,"hour":57.33,"mb":1005.07},
{"series":"AU957","seg":3,"hour":57.5,"mb":1004.92},
{"series":"AU957","seg":3,"hour":57.67,"mb":1004.75},
{"series":"AU957","seg":3,"hour":57.97,"mb":1004.99},
{"series":"AU957","seg":3,"hour":58.18,"mb":1004.82},
{"series":"AU957","seg":3,"hour":58.39,"mb":1004.76},
{"series":"AU957","seg":3,"hour":58.61,"mb":1004.69},
{"series":"AU957","seg":3,"hour":58.69,"mb":1003.94},
{"series":"AU957","seg":3,"hour":58.82,"mb":1003.26},
{"series":"AU957","seg":3,"hour":58.95,"mb":1002.77},
{"series":"AU957","seg":3,"hour":59.03,"mb":1002.81},
{"series":"AU957","seg":3,"hour":59.12,"mb":1003.41},
{"series":"AU957","seg":3,"hour":59.25,"mb":1003.49},
{"series":"AU957","seg":3,"hour":59.46,"mb":1003.49},
{"series":"AU957","seg":3,"hour":59.67,"mb":1003.41},
{"series":"AU957","seg":3,"hour":59.89,"mb":1003.04},
{"series":"AU957","seg":3,"hour":60.01,"mb":1002.59},
{"series":"AU957","seg":3,"hour":60.1,"mb":1002.51},
{"series":"AU957","seg":3,"hour":60.27,"mb":1002.29},
{"series":"AU957","seg":3,"hour":60.36,"mb":1001.84},
{"series":"AU957","seg":3,"hour":60.44,"mb":1001.47},
{"series":"AU957","seg":3,"hour":60.61,"mb":1001.09},
{"series":"AU957","seg":3,"hour":60.74,"mb":1000.72},
{"series":"AU957","seg":3,"hour":60.87,"mb":1000.27},
{"series":"AU957","seg":3,"hour":60.95,"mb":999.97},
{"series":"AU957","seg":3,"hour":61.04,"mb":999.67},
{"series":"AU957","seg":3,"hour":61.16,"mb":999.32},
{"series":"AU957","seg":3,"hour":61.29,"mb":999.41},
{"series":"AU957","seg":3,"hour":61.46,"mb":999.32},
{"series":"AU957","seg":3,"hour":61.59,"mb":999.67},
{"series":"AU957","seg":3,"hour":61.72,"mb":999.48},
{"series":"AU957","seg":3,"hour":61.89,"mb":999.97},
{"series":"AU957","seg":3,"hour":62.02,"mb":999.59},
{"series":"AU957","seg":3,"hour":62.14,"mb":999.22},
{"series":"AU957","seg":3,"hour":62.31,"mb":998.85},
{"series":"AU957","seg":3,"hour":62.44,"mb":998.7},
{"series":"AU957","seg":3,"hour":62.57,"mb":998.92},
{"series":"AU957","seg":3,"hour":62.66,"mb":999.0},
{"series":"AU957","seg":3,"hour":62.78,"mb":998.73},
{"series":"AU957","seg":3,"hour":62.91,"mb":998.7},
{"series":"AU957","seg":3,"hour":63.08,"mb":998.62},
{"series":"AU957","seg":3,"hour":63.21,"mb":998.55},
{"series":"AU957","seg":3,"hour":63.34,"mb":998.7},
{"series":"AU957","seg":3,"hour":63.42,"mb":998.77},
{"series":"AU957","seg":3,"hour":63.59,"mb":998.92},
{"series":"AU957","seg":3,"hour":63.76,"mb":999.12},
{"series":"AU957","seg":3,"hour":63.93,"mb":999.32},
{"series":"AU957","seg":3,"hour":64.06,"mb":999.52},
{"series":"AU957","seg":3,"hour":64.19,"mb":999.74},
{"series":"AU957","seg":3,"hour":64.36,"mb":1000.04},
{"series":"AU957","seg":3,"hour":64.49,"mb":1000.42},
{"series":"AU957","seg":3,"hour":64.61,"mb":1000.64},
{"series":"AU957","seg":3,"hour":64.7,"mb":1000.94},
{"series":"AU957","seg":3,"hour":64.87,"mb":1000.91},
{"series":"AU957","seg":3,"hour":65.04,"mb":1000.87},
{"series":"AU957","seg":3,"hour":65.21,"mb":1000.79},
{"series":"AU957","seg":3,"hour":65.38,"mb":1000.67},
{"series":"AU957","seg":3,"hour":65.51,"mb":1000.49},
{"series":"AU957","seg":3,"hour":65.64,"mb":1000.72},
{"series":"AU957","seg":3,"hour":65.76,"mb":1000.87},
{"series":"AU957","seg":3,"hour":65.89,"mb":1001.02},
{"series":"AU957","seg":3,"hour":66.06,"mb":1001.24},
{"series":"AU957","seg":3,"hour":66.23,"mb":1001.42},
{"series":"AU957","seg":3,"hour":66.36,"mb":1001.54},
{"series":"AU957","seg":3,"hour":66.49,"mb":1001.81},
{"series":"AU957","seg":3,"hour":66.57,"mb":1001.92},
{"series":"AU957","seg":3,"hour":66.7,"mb":1001.62},
{"series":"AU957","seg":3,"hour":66.83,"mb":1001.39},
{"series":"AU957","seg":3,"hour":67.0,"mb":1001.32},
{"series":"AU957","seg":3,"hour":67.17,"mb":1001.17},
{"series":"AU957","seg":3,"hour":67.34,"mb":1000.97},
{"series":"AU957","seg":3,"hour":67.51,"mb":1000.79},
{"series":"AU957","seg":3,"hour":67.68,"mb":1000.57},
{"series":"AU957","seg":3,"hour":67.85,"mb":1000.42},
{"series":"AU957","seg":3,"hour":68.02,"mb":1000.34},
{"series":"AU957","seg":3,"hour":68.19,"mb":1000.42},
{"series":"AU957","seg":3,"hour":68.36,"mb":1000.42},
{"series":"AU957","seg":3,"hour":68.53,"mb":1000.34},
{"series":"AU957","seg":3,"hour":68.7,"mb":1000.42},
{"series":"AU957","seg":3,"hour":68.87,"mb":1000.46},
{"series":"AU957","seg":3,"hour":69.04,"mb":1000.42},
{"series":"AU957","seg":3,"hour":69.21,"mb":1000.34},
{"series":"AU957","seg":3,"hour":69.39,"mb":1000.49},
{"series":"AU957","seg":3,"hour":69.56,"mb":1000.57},
{"series":"AU957","seg":3,"hour":69.73,"mb":1000.49},
{"series":"AU957","seg":3,"hour":69.9,"mb":1000.57},
{"series":"AU957","seg":3,"hour":70.07,"mb":1000.72},
{"series":"AU957","seg":3,"hour":70.24,"mb":1000.79},
{"series":"AU957","seg":3,"hour":70.41,"mb":1000.94},
{"series":"AU957","seg":3,"hour":70.58,"mb":1001.09},
{"series":"AU957","seg":3,"hour":70.75,"mb":1001.27},
{"series":"AU957","seg":3,"hour":70.92,"mb":1001.39},
{"series":"AU957","seg":3,"hour":71.09,"mb":1001.54},
{"series":"AU957","seg":3,"hour":71.26,"mb":1001.69},
{"series":"AU957","seg":3,"hour":71.43,"mb":1001.81},
{"series":"AU957","seg":3,"hour":71.6,"mb":1001.87},
{"series":"AU957","seg":3,"hour":71.77,"mb":1001.92},
{"series":"AU957","seg":3,"hour":72.0,"mb":1001.95}
]},
"data": {"name": "pressure"},
"layer": [
 {
  "transform": [{"filter": "datum.series === 'AU957 Analysis'"}],
  "mark": {"type": "line", "interpolate": "step-after", "strokeWidth": 1.2},
  "encoding": {
   "x": {"field": "hour", "type": "quantitative", "scale": {"domain": [0, 72], "nice": false, "zero": false},
         "axis": {"orient": "bottom", "values": [0,2,4,6,8,10,12,14,16,18,20,22,24,26,28,30,32,34,36,38,40,42,44,46,48,50,52,54,56,58,60,62,64,66,68,70,72],
                  "labelExpr": "datum.value % 6 == 0 ? ['11/' + (20 + floor(datum.value / 24)), (datum.value % 24 < 10 ? '0' : '') + (datum.value % 24) + ':00'] : ''",
                  "labelPadding": 14, "labelBaseline": "top", "labelLineHeight": 13, "title": null}},
   "y": {"field": "mb", "type": "quantitative", "scale": {"domain": [996, 1014], "nice": false, "zero": false},
         "axis": {"orient": "left", "values": [996,998,1000,1002,1004,1006,1008,1010,1012,1014], "format": "d", "labelPadding": 11, "title": "milliBars", "titlePadding": 13}},
   "color": {"field": "series", "type": "nominal", "scale": {"domain": ["AU957 Analysis", "AU957"], "range": ["#ff0000", "#1e90ff"]}, "legend": {"title": null}},
   "detail": {"field": "seg", "type": "nominal"}
  }
 },
 {
  "transform": [{"filter": "datum.series === 'AU957'"}],
  "mark": {"type": "line", "interpolate": "step-after", "strokeWidth": 1.2},
  "encoding": {
   "x": {"field": "hour", "type": "quantitative",
         "axis": {"orient": "top", "values": [0,2,4,6,8,10,12,14,16,18,20,22,24,26,28,30,32,34,36,38,40,42,44,46,48,50,52,54,56,58,60,62,64,66,68,70,72], "labels": false, "title": null}},
   "y": {"field": "mb", "type": "quantitative",
         "axis": {"orient": "right", "values": [996,998,1000,1002,1004,1006,1008,1010,1012,1014], "labels": false, "title": null}},
   "color": {"field": "series", "type": "nominal"},
   "detail": {"field": "seg", "type": "nominal"}
  }
 }
],
"resolve": {"axis": {"x": "independent", "y": "independent"}}
}
